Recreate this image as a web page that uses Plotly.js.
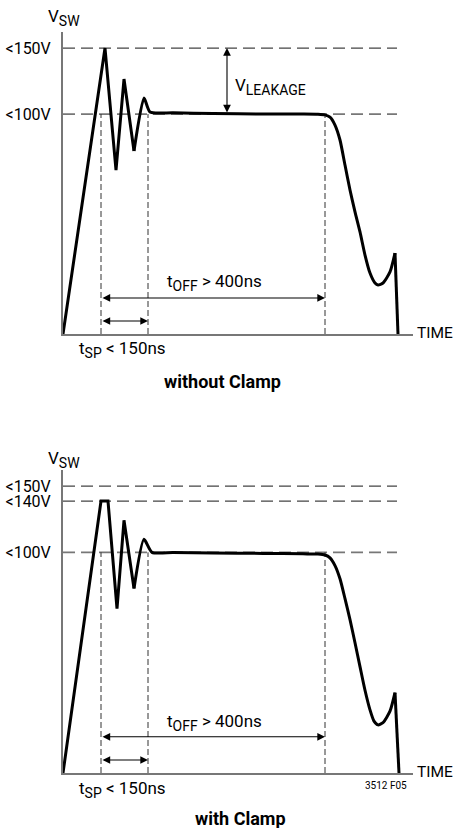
<!DOCTYPE html>
<html><head><meta charset="utf-8">
<script src="https://cdn.plot.ly/plotly-3.0.1.min.js"></script>
<style>html,body{margin:0;padding:0;background:#fff}</style>
</head><body><div id="chart" style="width:455px;height:828px"></div>
<script>
// Diagram units: time in arbitrary units, voltage where 100 = "<100V" level
// Without clamp: spike + ringing (straight segments), then settle, flat top and fall (smooth)
const ringTimeNoClamp = [0, 42, 53, 61, 71];
const ringVswNoClamp  = [0, 130, 74.5, 115.9, 83.2];
const timeNoClamp = [71, 81, 87, 110, 150, 200, 240, 255, 262, 267, 272, 277, 282, 287, 292, 297, 302, 307, 312, 315, 320, 327, 332];
const vswNoClamp  = [83.2, 107.3, 100.9, 100.6, 100.2, 100, 100, 99.9, 99.6, 98.6, 95, 88.2, 76.8, 65.5, 55.5, 46.4, 35.9, 27.7, 23.2, 22.3, 23.2, 28.2, 36.8];
const dropTimeNoClamp = [332, 335];
const dropVswNoClamp  = [36.8, 0];

// With clamp
const ringTimeClamp = [0, 38, 45, 54, 61, 71];
const ringVswClamp  = [0, 123.2, 123.2, 74.5, 114.5, 83.6];
const timeClamp = [71, 81, 89, 110, 150, 200, 240, 255, 262, 267, 272, 277, 282, 287, 292, 297, 302, 307, 311, 315, 320, 327, 332];
const vswClamp  = [83.6, 105.9, 100, 99.9, 99.7, 99.5, 99.3, 99.2, 98.8, 97.5, 94, 88, 79, 69.5, 59, 48.2, 37.5, 28.6, 23.5, 21.8, 22.8, 28, 36.4];
const dropTimeClamp = [332, 336];
const dropVswClamp  = [36.4, 0];

const levelsNoClamp = [100, 130];
const labelsNoClamp = ["<100V", "<150V"];
const levelsClamp = [100, 123.2, 130];
const labelsClamp = ["<100V", "<140V", "<150V"];

const markerTimes = [38, 85, 262];   // t_SP start, t_SP end, t_OFF end
const levelEnd = 334;
const tOffArrowLevel = 16.4;
const tSpArrowLevel = 5.9;
const leakageTime = 164;

const FONT = "Roboto, 'Liberation Sans Narrow', 'Liberation Sans', Arial, sans-serif";
const sub = s => '<sub><span style="font-size:14px">' + s + '</span></sub>';

const lineStyle = {color: '#000', width: 3};
const traces = [
  {x: ringTimeNoClamp, y: ringVswNoClamp, xaxis: 'x', yaxis: 'y', mode: 'lines', line: lineStyle, hoverinfo: 'skip'},
  {x: timeNoClamp, y: vswNoClamp, xaxis: 'x', yaxis: 'y', mode: 'lines', line: {color: '#000', width: 3, shape: 'spline', smoothing: 0.6}, hoverinfo: 'skip'},
  {x: dropTimeNoClamp, y: dropVswNoClamp, xaxis: 'x', yaxis: 'y', mode: 'lines', line: lineStyle, hoverinfo: 'skip'},
  {x: ringTimeClamp, y: ringVswClamp, xaxis: 'x2', yaxis: 'y2', mode: 'lines', line: lineStyle, hoverinfo: 'skip'},
  {x: timeClamp, y: vswClamp, xaxis: 'x2', yaxis: 'y2', mode: 'lines', line: {color: '#000', width: 3, shape: 'spline', smoothing: 0.6}, hoverinfo: 'skip'},
  {x: dropTimeClamp, y: dropVswClamp, xaxis: 'x2', yaxis: 'y2', mode: 'lines', line: lineStyle, hoverinfo: 'skip'}
];

const shapes = [];
function addLevels(levels, xr, yr) {
  levels.forEach(v => {
    shapes.push({type: 'line', xref: xr, yref: yr, x0: 0, x1: levelEnd, y0: v, y1: v,
      line: {color: v === 100 ? '#777' : '#444', width: v === 100 ? 1.8 : 1.2, dash: '12px,6px'}, layer: 'below'});
  });
  markerTimes.forEach(t => {
    shapes.push({type: 'line', xref: xr, yref: yr, x0: t, x1: t, y0: 0, y1: 100,
      line: {color: '#333', width: 1, dash: '6px,3px'}, layer: 'below'});
  });
}
addLevels(levelsNoClamp, 'x', 'y');
addLevels(levelsClamp, 'x2', 'y2');

const annotations = [];
function dblArrow(xr, yr, x0, y0, x1, y1) {
  annotations.push({xref: xr, yref: yr, axref: xr, ayref: yr, x: x1, y: y1, ax: x0, ay: y0, text: '',
    showarrow: true, arrowhead: 2, startarrowhead: 2, arrowside: 'end+start', arrowsize: 1.4, startarrowsize: 1.4,
    arrowwidth: 1.1, arrowcolor: '#000', standoff: 0, startstandoff: 0});
}
function txt(xr, yr, x, y, text, opts) {
  annotations.push(Object.assign({xref: xr, yref: yr, x: x, y: y, text: text, showarrow: false,
    font: {family: FONT, size: 17, color: '#000'}, xanchor: 'center', yanchor: 'middle'}, opts || {}));
}
const timeFont = {family: FONT, size: 15.5, color: '#000'};

// top panel
dblArrow('x', 'y', leakageTime, levelsNoClamp[0], leakageTime, levelsNoClamp[1]);
txt('x', 'y', leakageTime + 6, 112.7, 'V' + sub('LEAKAGE'), {xanchor: 'left'});
dblArrow('x', 'y', markerTimes[0], tOffArrowLevel, markerTimes[2], tOffArrowLevel);
dblArrow('x', 'y', markerTimes[0], tSpArrowLevel, markerTimes[1], tSpArrowLevel);
txt('x', 'y', 151, 23.5, 't' + sub('OFF') + ' > 400ns');
txt('paper', 'paper', 123/455, 1 - 349/828, 't' + sub('SP') + ' < 150ns');
txt('paper', 'paper', 64/455, 1 - 18/828, 'V' + sub('SW'));
txt('paper', 'paper', 415/455, 1 - 333/828, 'TIME', {xanchor: 'left', font: timeFont});
txt('paper', 'paper', 222/455, 1 - 381/828, '<b>without Clamp</b>', {font: {family: FONT, size: 18, color: '#000'}});

// bottom panel
dblArrow('x2', 'y2', markerTimes[0], tOffArrowLevel, markerTimes[2], tOffArrowLevel);
dblArrow('x2', 'y2', markerTimes[0], tSpArrowLevel, markerTimes[1], tSpArrowLevel);
txt('x2', 'y2', 151, 23.0, 't' + sub('OFF') + ' > 400ns');
txt('paper', 'paper', 123/455, 1 - 789/828, 't' + sub('SP') + ' < 150ns');
txt('paper', 'paper', 64/455, 1 - 459/828, 'V' + sub('SW'));
txt('paper', 'paper', 415/455, 1 - 772/828, 'TIME', {xanchor: 'left', font: timeFont});
txt('paper', 'paper', 386/455, 1 - 785/828, '3512 F05', {font: {family: FONT, size: 10, color: '#000'}});
txt('paper', 'paper', 240/455, 1 - 818/828, '<b>with Clamp</b>', {font: {family: FONT, size: 18, color: '#000'}});

const xDom = [63/455, 413/455];
const axX = {range: [0, 350], showgrid: false, zeroline: false, showline: true, linecolor: '#777', linewidth: 2,
  showticklabels: false, ticks: '', fixedrange: true};
function axY(vals, labels) {
  return {range: [0, 137.3], showgrid: false, zeroline: false, showline: true, linecolor: '#777', linewidth: 2,
    tickmode: 'array', tickvals: vals, ticktext: labels, ticks: '', ticklabelstandoff: 7,
    tickfont: {family: FONT, size: 16, color: '#000'}, fixedrange: true};
}

const layout = {
  width: 455, height: 828, margin: {l: 0, r: 0, t: 0, b: 0},
  paper_bgcolor: '#fff', plot_bgcolor: '#fff', showlegend: false,
  xaxis: Object.assign({}, axX, {domain: xDom, anchor: 'y'}),
  yaxis: Object.assign(axY(levelsNoClamp, labelsNoClamp), {domain: [1 - 334/828, 1 - 32/828], anchor: 'x'}),
  xaxis2: Object.assign({}, axX, {domain: xDom, anchor: 'y2'}),
  yaxis2: Object.assign(axY(levelsClamp, labelsClamp), {domain: [1 - 773/828, 1 - 470/828], anchor: 'x2'}),
  shapes: shapes, annotations: annotations
};

Plotly.newPlot('chart', traces, layout, {displayModeBar: false, staticPlot: true});
</script></body></html>
